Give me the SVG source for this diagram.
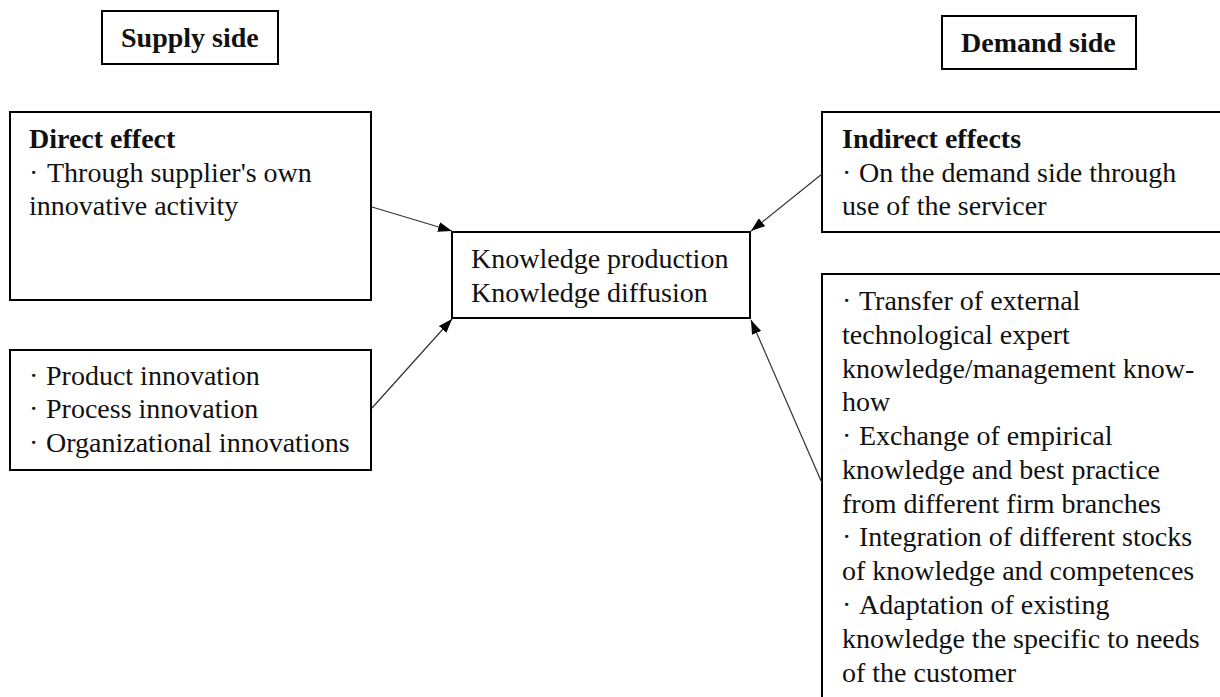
<svg xmlns="http://www.w3.org/2000/svg" width="1220" height="697" viewBox="0 0 1220 697">
<style>
.box{fill:#fff;stroke:#000;stroke-width:2}
.t{font-family:"Liberation Serif","Times New Roman",serif;font-size:28px;fill:#111}
.b{font-weight:bold}
.c{stroke:#333;stroke-width:1.2;fill:none}
</style>
<defs>
<marker id="ah" viewBox="0 0 14 10" refX="14" refY="5" markerWidth="14" markerHeight="10" markerUnits="userSpaceOnUse" orient="auto">
<path d="M0,0 L14,5 L0,10 z" fill="#000"/>
</marker>
</defs>
<rect width="1220" height="697" fill="#fff"/>
<g id="supply-side">
<rect class="box" x="102" y="11" width="176" height="53"/>
<text class="t b" x="121" y="47">Supply side</text>
</g>
<g id="demand-side">
<rect class="box" x="942" y="16" width="194" height="53"/>
<text class="t b" x="961" y="52">Demand side</text>
</g>
<g id="direct-effect">
<rect class="box" x="10" y="112" width="361" height="188"/>
<text class="t b" x="29" y="148">Direct effect</text>
<text class="t" y="182"><tspan x="29">·</tspan> <tspan x="47">Through supplier's own</tspan></text>
<text class="t" x="29" y="215">innovative activity</text>
</g>
<g id="innovations">
<rect class="box" x="10" y="350" width="361" height="120"/>
<text class="t" y="385"><tspan x="29">·</tspan> <tspan x="46">Product innovation</tspan></text>
<text class="t" y="418"><tspan x="29">·</tspan> <tspan x="46">Process innovation</tspan></text>
<text class="t" y="452"><tspan x="29">·</tspan> <tspan x="46">Organizational innovations</tspan></text>
</g>
<g id="knowledge">
<rect class="box" x="452" y="232" width="298" height="86"/>
<text class="t" x="471" y="268">Knowledge production</text>
<text class="t" x="471" y="302">Knowledge diffusion</text>
</g>
<g id="indirect-effects">
<rect class="box" x="822" y="112" width="410" height="120"/>
<text class="t b" x="842" y="148">Indirect effects</text>
<text class="t" y="182"><tspan x="842">·</tspan> <tspan x="859">On the demand side through</tspan></text>
<text class="t" x="842" y="215">use of the servicer</text>
</g>
<g id="demand-list">
<rect class="box" x="822" y="274" width="410" height="440"/>
<text class="t" y="310"><tspan x="842">·</tspan> <tspan x="859">Transfer of external</tspan></text>
<text class="t" x="842" y="344">technological expert</text>
<text class="t" x="842" y="378">knowledge/management know-</text>
<text class="t" x="842" y="411">how</text>
<text class="t" y="445"><tspan x="842">·</tspan> <tspan x="859">Exchange of empirical</tspan></text>
<text class="t" x="842" y="479">knowledge and best practice</text>
<text class="t" x="842" y="513">from different firm branches</text>
<text class="t" y="546"><tspan x="842">·</tspan> <tspan x="859">Integration of different stocks</tspan></text>
<text class="t" x="842" y="580">of knowledge and competences</text>
<text class="t" y="614"><tspan x="842">·</tspan> <tspan x="859">Adaptation of existing</tspan></text>
<text class="t" x="842" y="648">knowledge the specific to needs</text>
<text class="t" x="842" y="682">of the customer</text>
</g>
<g id="connectors">
<line class="c" x1="372" y1="207" x2="452" y2="231" marker-end="url(#ah)"/>
<line class="c" x1="372" y1="408" x2="452" y2="319" marker-end="url(#ah)"/>
<line class="c" x1="822" y1="174" x2="751" y2="231" marker-end="url(#ah)"/>
<line class="c" x1="822" y1="483" x2="751" y2="320" marker-end="url(#ah)"/>
</g>
</svg>
